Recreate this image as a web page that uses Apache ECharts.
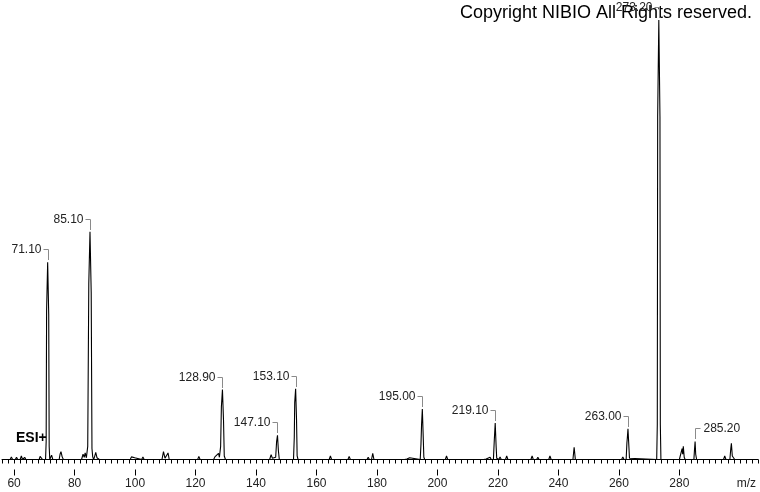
<!DOCTYPE html>
<html>
<head>
<meta charset="utf-8">
<script src="https://cdn.jsdelivr.net/npm/echarts@6/dist/echarts.min.js"></script>
<style>
html,body{margin:0;padding:0;background:#fff;}
#chart{width:760px;height:492px;}
</style>
</head>
<body>
<div id="chart"></div>
<script>
// Profile of the spectrum: [m/z, relative intensity %]
const profile = [
[56,0],
[57.1,0],[57.5,0.4],[57.9,0],
[58.7,0],[59.1,0.6],[59.5,0],
[60.4,0],[60.8,0.5],[61.2,0],
[62.0,0],[62.4,0.8],[62.8,0],
[63.1,0],[63.5,0.5],[63.9,0],
[68.3,0],[68.6,0.7],[68.9,0.5],[69.1,0.7],[69.4,0],
[70.4,0],[70.6,4],[70.75,34],[71.1,44.9],[71.45,33],[71.6,3],[71.8,0],
[72.0,0],[72.4,1.0],[72.8,0],
[74.9,0],[75.2,1.2],[75.5,1.8],[75.9,0.6],[76.3,0],
[82.3,0],[82.8,1.2],[83.2,0.5],[83.5,1.5],[83.9,0.4],[84.35,3],[84.7,40],[85.1,51.8],[85.5,38],[85.75,2.5],[86.0,0.6],[86.3,0],[86.6,0.6],[87.0,1.6],[87.4,0.4],[87.8,0.8],[88.2,0],
[90.6,0],[91.0,0.4],[91.4,0],
[96.8,0],[97.2,0.4],[97.6,0],
[98.4,0],[98.8,0.6],[99.2,0.2],[99.9,0.4],[100.3,0],
[102.2,0],[102.6,0.6],[103.0,0],
[108.9,0],[109.4,1.8],[109.9,0.3],[110.4,0.4],[110.9,1.5],[111.3,0],
[120.7,0],[121.1,0.7],[121.5,0],
[126.0,0],[126.4,0.6],[126.8,0.2],[127.6,1.4],[127.9,0.5],[128.3,3],[128.55,12],[128.9,15.9],[129.25,9],[129.5,0.8],[129.9,0],
[134.8,0],[135.2,0.3],[135.6,0],
[144.5,0],[145.0,1.1],[145.4,0.3],[146.5,0.5],[146.8,4],[147.1,5.5],[147.4,2],[147.7,0],
[148.9,0],[149.3,0.4],[149.7,0],
[152.4,0],[152.65,5],[152.8,13],[153.1,16.1],[153.4,9],[153.6,0.8],[153.9,0],
[164.2,0],[164.6,0.8],[165.0,0],
[166.2,0],[166.6,0.4],[167.0,0],
[170.4,0],[170.8,0.7],[171.2,0],
[176.7,0],[177.1,0.5],[177.5,0],
[178.2,0],[178.6,1.4],[179.0,0],
[189.1,0],[189.5,0.4],[189.9,0.1],[190.8,0.4],[191.2,0],
[194.3,0],[194.55,3.5],[194.75,8],[195.0,11.5],[195.3,5],[195.5,0.5],[195.8,0],
[200.6,0],[201.0,0.4],[201.4,0],
[202.6,0],[203.0,0.8],[203.4,0],
[206.8,0],[207.2,0.4],[207.6,0],
[208.7,0],[209.1,0.4],[209.5,0],
[215.3,0],[215.7,0.4],[216.1,0.1],[217.4,0.5],[217.8,0],
[218.5,0],[218.8,4.5],[219.1,8.3],[219.4,3],[219.6,0.3],[220.0,0],
[220.3,0],[220.7,0.6],[221.1,0],
[222.5,0],[222.9,0.8],[223.3,0],
[230.9,0],[231.3,0.8],[231.7,0],
[232.8,0],[233.2,0.5],[233.6,0],
[236.8,0],[237.2,0.8],[237.6,0],
[244.8,0],[245.2,2.8],[245.6,0],
[248.8,0],[249.2,0.4],[249.6,0],
[255.5,0],[255.9,0.4],[256.3,0],
[260.9,0],[261.3,0.6],[261.7,0],
[262.4,0],[262.65,3.8],[262.8,5],[263.0,7.0],[263.3,3],[263.5,0.3],[263.8,0],
[272.5,0],[272.7,8],[272.82,78],[273.2,100],[273.58,78],[273.7,8],[273.9,0],
[279.2,0],[279.6,0.4],[280.0,0],
[280.6,0],[280.9,2.5],[281.1,1.2],[281.3,3.0],[281.6,0.5],[281.9,0],
[284.8,0],[285.0,2.2],[285.2,4.1],[285.4,1.2],[285.7,0],
[294.6,0],[295.0,0.8],[295.4,0],
[296.7,0],[297.0,2.5],[297.2,3.7],[297.5,0.8],[297.9,0.4],[298.3,0],
[303.1,0],[303.5,0.4],[303.9,0],
[305.0,0],[305.4,0.4],[305.8,0],
[306,0]
];

// Annotated peaks
const labelMz     = [71.1, 85.1, 128.9, 147.1, 153.1, 195.0, 219.1, 263.0, 273.2, 285.2];
const labelHeight = [44.9, 51.8, 15.9, 5.5, 16.1, 11.5, 8.3, 7.0, 100, 4.1];
const labelText   = ['71.10','85.10','128.90','147.10','153.10','195.00','219.10','263.00','273.20','285.20'];
const labelSide   = ['left','left','left','left','left','left','left','left','left','right'];

// Axis
const axisMin = 56, axisMax = 306;
const majorTicks = [60, 80, 100, 120, 140, 160, 180, 200, 220, 240, 260, 280];
const minorTicks = [];
for (let v = axisMin; v <= axisMax; v += 2) minorTicks.push(v);

const chart = echarts.init(document.getElementById('chart'), null, {renderer: 'canvas'});
const tickFont = '"Liberation Sans Narrow", "Liberation Sans", Arial, sans-serif';

chart.setOption({
  animation: false,
  backgroundColor: '#ffffff',
  grid: {left: 2, right: 2, top: 20, bottom: 32.5, containLabel: false},
  xAxis: [
    {
      type: 'value', min: axisMin, max: axisMax, position: 'bottom', offset: 10,
      axisLine: {show: true, lineStyle: {color: '#000', width: 1}},
      axisTick: {show: true, length: 4, customValues: minorTicks, lineStyle: {color: '#000'}},
      axisLabel: {show: false},
      splitLine: {show: false}
    },
    {
      type: 'value', min: axisMin, max: axisMax, position: 'bottom', offset: 10,
      axisLine: {show: false},
      axisTick: {show: true, length: 6, customValues: majorTicks, lineStyle: {color: '#000'}},
      axisLabel: {show: true, customValues: majorTicks, margin: 8, fontSize: 12,
                  fontFamily: tickFont, color: '#222'},
      splitLine: {show: false}
    }
  ],
  yAxis: {type: 'value', min: 0, max: 100, show: false},
  graphic: [
    {type: 'text', right: 8, top: 4,
     style: {text: 'Copyright NIBIO All Rights reserved.', font: '18px "Liberation Sans", Arial, sans-serif', fill: '#000'}},
    {type: 'text', left: 16, top: 431,
     style: {text: 'ESI+', font: 'bold 14px "Liberation Sans", Arial, sans-serif', fill: '#000'}},
    {type: 'text', right: 4, top: 478,
     style: {text: 'm/z', font: '12px ' + tickFont, fill: '#222'}}
  ],
  series: [
    {
      type: 'line', xAxisIndex: 0, data: profile, showSymbol: false, symbol: 'none',
      sampling: null, lineStyle: {color: '#000', width: 1.1}, silent: true, z: 2
    },
    {
      type: 'custom', xAxisIndex: 0, clip: false, z: 3, silent: true,
      data: labelMz.map((m, i) => [m, labelHeight[i], i]),
      encode: {x: 0, y: 1},
      renderItem: function (params, api) {
        const i = api.value(2);
        const pt = api.coord([api.value(0), api.value(1)]);
        const x = Math.round(pt[0]) + 0.5;
        const yTop = Math.round(pt[1]);
        const yl = yTop - 13 + 0.5;
        const right = labelSide[i] === 'right';
        const pts = right
          ? [[x, yTop - 2], [x, yl], [x + 5, yl]]
          : [[x - 5, yl], [x, yl], [x, yTop - 2]];
        return {
          type: 'group',
          children: [
            {type: 'polyline', shape: {points: pts},
             style: {stroke: '#8a8a8a', lineWidth: 1, fill: null}},
            {type: 'text',
             style: {text: labelText[i], x: right ? x + 8 : x - 7, y: yl,
                     align: right ? 'left' : 'right', verticalAlign: 'middle',
                     font: '12px "Liberation Sans", Arial, sans-serif', fill: '#222'}}
          ]
        };
      }
    }
  ]
});
</script>
</body>
</html>
